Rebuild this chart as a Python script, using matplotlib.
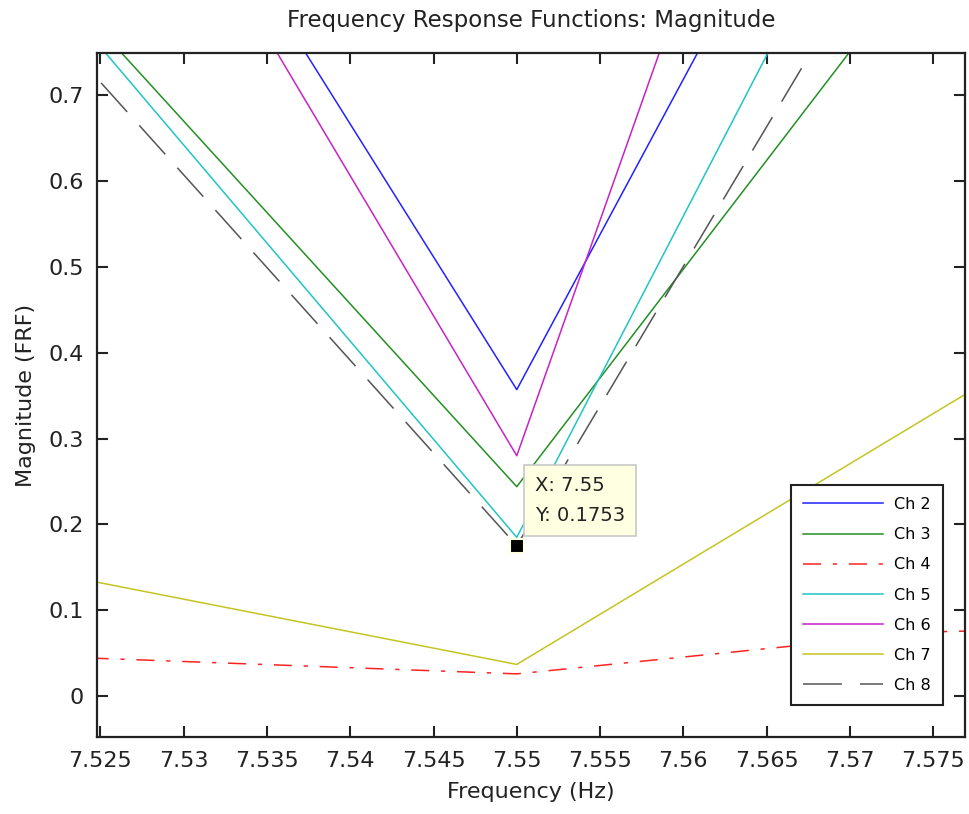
import matplotlib
matplotlib.use('Agg')
import matplotlib.pyplot as plt

# Datos
freq = [7.500, 7.525, 7.550, 7.575, 7.600]
ch2 = [1.55, 1.13, 0.357, 1.26, 1.95]
ch3 = [1.05, 0.776, 0.244, 0.877, 1.35]
ch4 = [0.062, 0.044, 0.026, 0.075, 0.085]
ch5 = [1.00, 0.756, 0.185, 1.12, 1.60]
ch6 = [1.60, 1.095, 0.280, 1.65, 2.30]
ch7 = [0.228, 0.132, 0.037, 0.329, 0.62]
ch8 = [0.95, 0.715, 0.1753, 0.988, 1.40]
labels = ['Ch 2', 'Ch 3', 'Ch 4', 'Ch 5', 'Ch 6', 'Ch 7', 'Ch 8']
tip_x, tip_y = 7.55, 0.1753
xticks = [7.525, 7.53, 7.535, 7.54, 7.545, 7.55, 7.555, 7.56, 7.565, 7.57, 7.575]
yticks = [0, 0.1, 0.2, 0.3, 0.4, 0.5, 0.6, 0.7]

plt.rcParams['font.family'] = ['DejaVu Sans']
plt.rcParams['lines.scale_dashes'] = False

fig = plt.figure(figsize=(9.69, 8.14), dpi=100)
ax = fig.add_axes([0.1006, 0.0946, 0.8953, 0.8403])

series = [ch2, ch3, ch4, ch5, ch6, ch7, ch8]
colors = ['#2222ff', '#229022', '#ff2222', '#22c4c4', '#c822c8', '#c4c422', '#555555']
for vals, col, lab in zip(series, colors, labels):
    line, = ax.plot(freq, vals, color=col, linewidth=1.1, label=lab)
    if lab == 'Ch 4':
        line.set_dashes([13, 8.5, 3, 8.5])
    elif lab == 'Ch 8':
        line.set_dashes([28, 13])

# Datatip
ax.plot([tip_x], [tip_y], marker='s', markersize=10.5, color='black',
        markeredgecolor='#ffffe1', markeredgewidth=1.5, zorder=5)
ax.annotate(f"X: {tip_x:g}\nY: {tip_y:g}", xy=(tip_x, tip_y),
            xytext=(13, 15), textcoords='offset points', ha='left', va='bottom',
            fontsize=14, linespacing=1.75, color='#222222',
            bbox=dict(boxstyle='square,pad=0.55', facecolor='#ffffe1',
                      edgecolor='#c8c8c8', linewidth=1.2), zorder=6)

ax.set_xlim(7.52482, 7.57692)
ax.set_ylim(-0.0475, 0.749)
ax.set_xticks(xticks)
ax.set_xticklabels([f"{t:g}" for t in xticks])
ax.set_yticks(yticks)
ax.set_yticklabels([f"{t:g}" for t in yticks])
ax.tick_params(direction='in', length=8, width=1.5, top=True, right=True,
               labelsize=16, colors='#222222')
ax.tick_params(axis='x', pad=10)
ax.tick_params(axis='y', pad=10)
for s in ax.spines.values():
    s.set_linewidth(1.6)
    s.set_color('#222222')

ax.set_title('Frequency Response Functions: Magnitude', fontsize=16.5, pad=19,
             color='#222222')
ax.set_xlabel('Frequency (Hz)', fontsize=16, labelpad=8, color='#222222')
ax.set_ylabel('Magnitude (FRF)', fontsize=16, labelpad=9, color='#222222')

leg = ax.legend(loc='lower right', bbox_to_anchor=(0.9747, 0.0467),
                borderaxespad=0, fontsize=11.5, handlelength=5.0,
                handletextpad=0.7, labelspacing=0.95, borderpad=0.75,
                fancybox=False, framealpha=1, edgecolor='#222222')
leg.get_frame().set_linewidth(1.5)

fig.savefig('out.png', dpi=100, facecolor='white')
